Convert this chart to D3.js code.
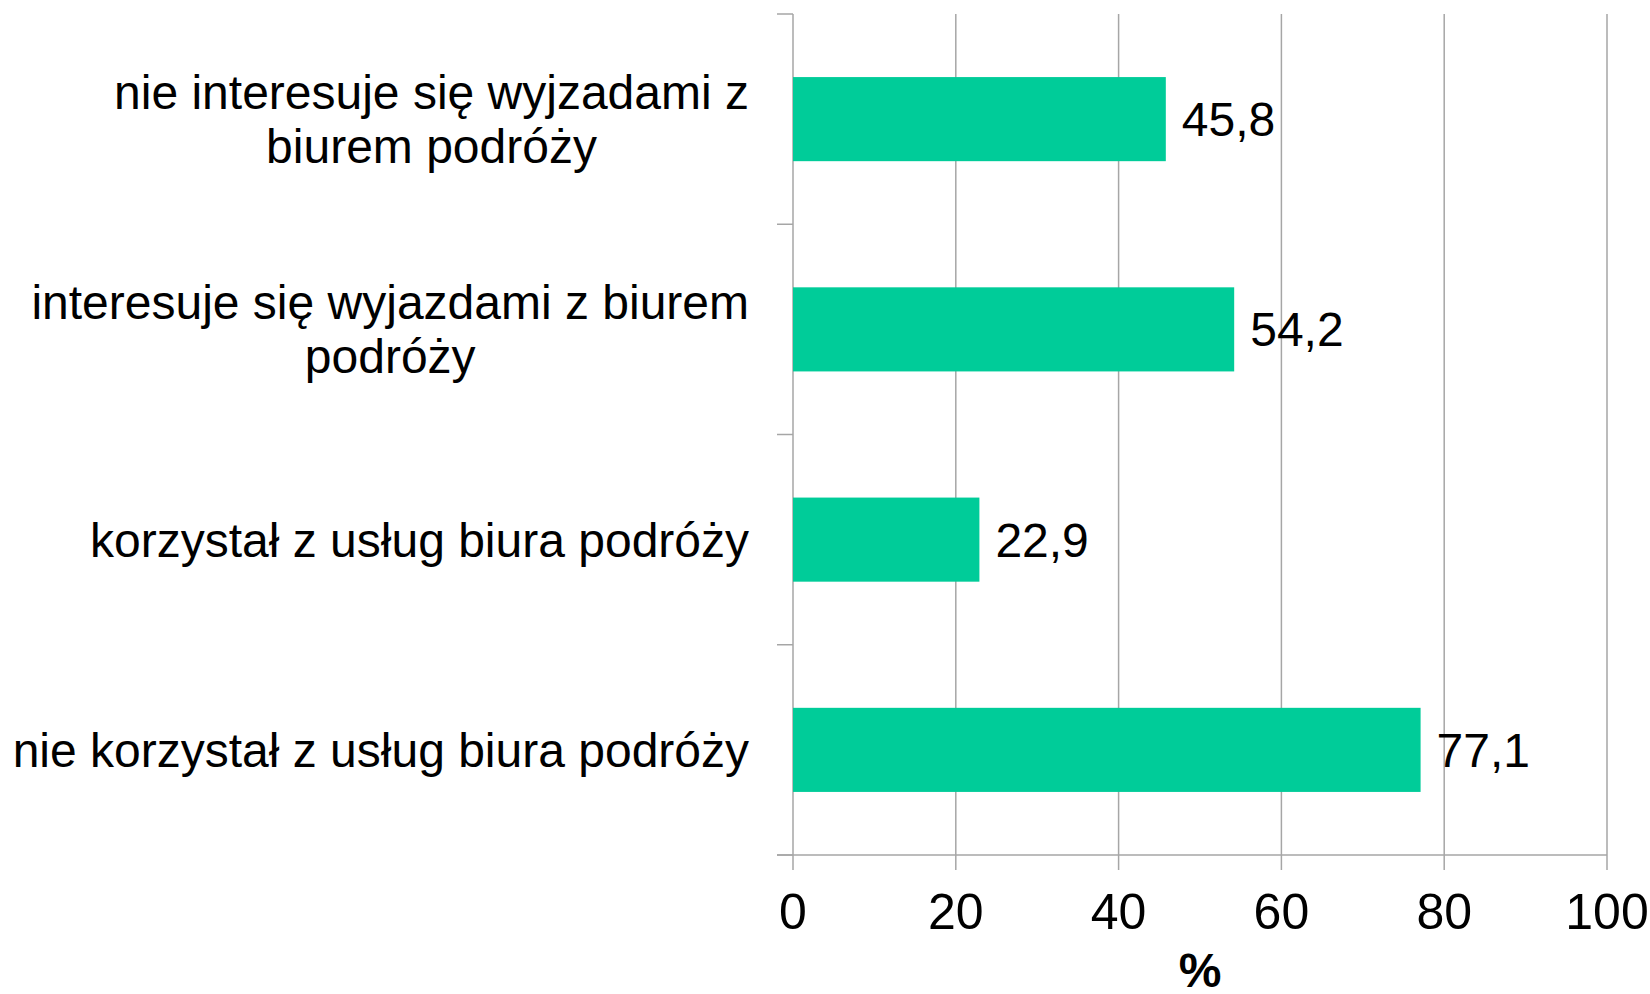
<!DOCTYPE html>
<html>
<head>
<meta charset="utf-8">
<script src="https://cdn.jsdelivr.net/npm/d3@7"></script>
<style>
  body { margin: 0; background: #fff; }
  svg { display: block; font-family: "Liberation Sans", Arial, sans-serif; }
</style>
</head>
<body>
<div id="wrapper"></div>
<script>
// categories top to bottom, each split into its lines
const categories = [
    ["nie interesuje się wyjzadami z", "biurem podróży"],
    ["interesuje się wyjazdami z biurem", "podróży"],
    ["korzystał z usług biura podróży"],
    ["nie korzystał z usług biura podróży"],
]
const values = [45.8, 54.2, 22.9, 77.1]
const xTicks = [0, 20, 40, 60, 80, 100]
const axisTitle = "%"

function drawBar() {
    const dimensions = {
        width: 1650,
        height: 994,
        margin: { top: 14, right: 43, bottom: 139, left: 793 },
    }
    dimensions.boundedWidth = dimensions.width - dimensions.margin.left - dimensions.margin.right
    dimensions.boundedHeight = dimensions.height - dimensions.margin.top - dimensions.margin.bottom

    const gridColor = "#a6a6a6"
    const tickLen = 15

    const wrapper = d3.select("#wrapper")
        .append("svg")
        .attr("width", dimensions.width)
        .attr("height", dimensions.height)

    const bounds = wrapper.append("g")
        .attr("transform", `translate(${dimensions.margin.left},${dimensions.margin.top})`)

    const xScaler = d3.scaleLinear()
        .domain([0, 100])
        .range([0, dimensions.boundedWidth])

    const yScaler = d3.scaleBand()
        .domain(d3.range(categories.length))
        .range([0, dimensions.boundedHeight])
        .paddingInner(0.6)
        .paddingOuter(0.3)

    const bandStep = dimensions.boundedHeight / categories.length

    // vertical gridlines (also form the bottom ticks)
    bounds.append("g")
        .selectAll("line")
        .data(xTicks)
        .enter()
        .append("line")
        .attr("x1", d => xScaler(d))
        .attr("x2", d => xScaler(d))
        .attr("y1", 0)
        .attr("y2", dimensions.boundedHeight + tickLen)
        .attr("stroke", gridColor)
        .attr("stroke-width", 1.5)

    // category separator ticks on the left
    bounds.append("g")
        .selectAll("line")
        .data(d3.range(categories.length + 1))
        .enter()
        .append("line")
        .attr("x1", -16)
        .attr("x2", 0)
        .attr("y1", d => d * bandStep)
        .attr("y2", d => d * bandStep)
        .attr("stroke", gridColor)
        .attr("stroke-width", 1.5)

    // bottom axis line
    bounds.append("line")
        .attr("x1", -16)
        .attr("x2", xScaler(100))
        .attr("y1", dimensions.boundedHeight)
        .attr("y2", dimensions.boundedHeight)
        .attr("stroke", gridColor)
        .attr("stroke-width", 1.5)

    // bars
    bounds.append("g")
        .selectAll("rect")
        .data(values)
        .enter()
        .append("rect")
        .attr("x", xScaler(0))
        .attr("y", (d, i) => yScaler(i))
        .attr("width", d => xScaler(d) - xScaler(0))
        .attr("height", yScaler.bandwidth())
        .attr("fill", "#00cc99")

    // value labels
    bounds.append("g")
        .selectAll("text")
        .data(values)
        .enter()
        .append("text")
        .attr("x", d => xScaler(d) + 16)
        .attr("y", (d, i) => yScaler(i) + yScaler.bandwidth() / 2 + 17)
        .text(d => d.toFixed(1).replace(".", ","))
        .attr("font-size", "48px")
        .attr("fill", "#000")

    // x tick labels
    bounds.append("g")
        .selectAll("text")
        .data(xTicks)
        .enter()
        .append("text")
        .attr("x", d => xScaler(d))
        .attr("y", dimensions.boundedHeight + 74)
        .text(d => d)
        .attr("font-size", "50px")
        .attr("text-anchor", "middle")
        .attr("fill", "#000")

    // axis title
    bounds.append("text")
        .attr("x", xScaler(50))
        .attr("y", dimensions.boundedHeight + 132)
        .text(axisTitle)
        .attr("font-size", "48px")
        .attr("font-weight", "bold")
        .attr("text-anchor", "middle")
        .attr("fill", "#000")

    // category labels: block right aligned, lines centred within block
    const lineHeight = 54
    const labelRight = -44
    const labels = bounds.append("g")
        .selectAll("g")
        .data(categories)
        .enter()
        .append("g")

    labels.each(function (lines, i) {
        const g = d3.select(this)
        const cy = yScaler(i) + yScaler.bandwidth() / 2
        const texts = g.selectAll("text")
            .data(lines)
            .enter()
            .append("text")
            .text(d => d)
            .attr("font-size", "48px")
            .attr("fill", "#000")
            .attr("text-anchor", "middle")
        const widths = []
        texts.each(function () { widths.push(this.getComputedTextLength()) })
        const blockW = d3.max(widths)
        texts
            .attr("x", labelRight - blockW / 2)
            .attr("y", (d, j) => cy + 17 + (j - (lines.length - 1) / 2) * lineHeight)
    })
}

drawBar()
</script>
</body>
</html>
